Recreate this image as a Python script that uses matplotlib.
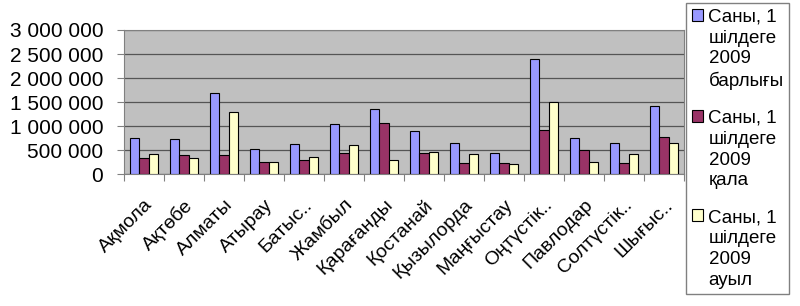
import numpy as np
import matplotlib.pyplot as plt

plt.rcParams["font.family"] = ["Liberation Sans", "DejaVu Sans"]

# Data
regions = ["Ақмола", "Ақтөбе", "Алматы", "Атырау", "Батыс..", "Жамбыл", "Қарағанды",
           "Қостанай", "Қызылорда", "Маңғыстау", "Оңтүстік..", "Павлодар",
           "Солтүстік..", "Шығыс.."]
total = [743000, 722000, 1681000, 514000, 625000, 1035000, 1354000,
         889000, 646000, 437000, 2403000, 750000, 646000, 1417000]
urban = [333000, 396000, 396000, 250000, 285000, 437000, 1056000,
         431000, 236000, 236000, 910000, 507000, 236000, 778000]
rural = [410000, 326000, 1292000, 257000, 347000, 604000, 292000,
         451000, 417000, 208000, 1507000, 257000, 417000, 653000]
labels = ["Саны, 1\nшілдеге\n2009\nбарлығы",
          "Саны, 1\nшілдеге\n2009\nқала",
          "Саны, 1\nшілдеге\n2009\nауыл"]
yticks = [0, 500000, 1000000, 1500000, 2000000, 2500000, 3000000]

fig = plt.figure(figsize=(8, 3.06), dpi=100)
ax = fig.add_axes([0.155, 0.431, 0.70, 0.471])
ax.set_facecolor("#C0C0C0")

x = np.arange(len(regions))
w = 0.233
ax.bar(x - w, total, w, color="#9999FF", edgecolor="black", linewidth=0.8, label=labels[0], zorder=3)
ax.bar(x, urban, w, color="#993366", edgecolor="black", linewidth=0.8, label=labels[1], zorder=3)
ax.bar(x + w, rural, w, color="#FFFFCC", edgecolor="black", linewidth=0.8, label=labels[2], zorder=3)

ax.set_xlim(-0.5, len(regions) - 0.5)
ax.set_ylim(0, 3000000)
ax.set_yticks(yticks)
ax.set_yticklabels([f"{v:,}".replace(",", " ") for v in yticks], fontsize=15)
ax.yaxis.grid(True, color="#555555", linewidth=0.9, zorder=0)
ax.tick_params(axis="y", length=5, pad=10, color="#808080")

# boundary ticks, labels at category centres
ax.set_xticks(np.arange(len(regions) + 1) - 0.5)
ax.set_xticklabels([])
ax.tick_params(axis="x", which="major", length=5, color="#808080", direction="out")
ax.set_xticks(x, minor=True)
ax.set_xticklabels(regions, minor=True, rotation=45, ha="right", va="top",
                   rotation_mode="anchor", fontsize=14)
ax.tick_params(axis="x", which="minor", length=0, pad=16)

for s in ax.spines.values():
    s.set_color("#808080")

leg = fig.legend(loc="upper left", bbox_to_anchor=(686 / 800, 1 - 3 / 306), fontsize=13.5,
                 frameon=True, fancybox=False, edgecolor="#808080", framealpha=1,
                 handlelength=0.6, handleheight=0.6, handletextpad=0.3,
                 labelspacing=1.05, borderpad=0.3, borderaxespad=0)
for t in leg.get_texts():
    t.set_linespacing(1.3)
# put the colour box next to the first line of each label
for col in leg._legend_handle_box.get_children():
    for row in col.get_children():
        row.align = "top"

plt.savefig("out.png", dpi=100)
